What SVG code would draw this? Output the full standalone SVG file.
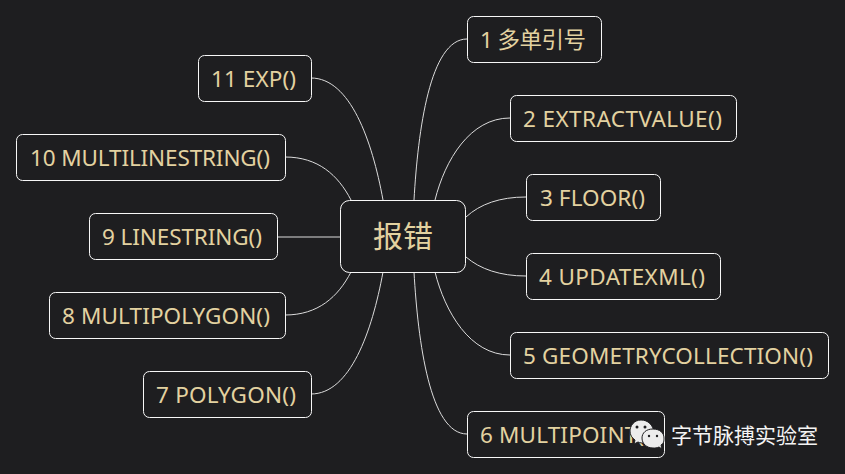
<svg xmlns="http://www.w3.org/2000/svg" width="845" height="474" viewBox="0 0 845 474">
<style>
.n{fill:#1e1e20;stroke:#f7f7f7;stroke-width:1}
.t{fill:#e3d2a0;font-family:"Noto Sans","Noto Sans CJK SC",sans-serif;font-size:22.5px}
.c{fill:none;stroke:#dcdcdc;stroke-width:1}
.b{fill:#ececec;stroke:#1e1e20;stroke-width:1}
</style>
<rect width="845" height="474" fill="#1e1e20"/>
<g id="connectors">
<path class="c" d="M414 200C418 130 430 39 467 39"/>
<path class="c" d="M435 200C445 160 470 118 510 118"/>
<path class="c" d="M466 217C480 204 500 197 526 197"/>
<path class="c" d="M466 257C480 269 500 276 526 276"/>
<path class="c" d="M435 272C445 312 470 355 510 355"/>
<path class="c" d="M414 272C418 342 430 434 467 434"/>
<path class="c" d="M383 200C372 140 350 78 311 78"/>
<path class="c" d="M351 200C338 175 318 157 285 157"/>
<path class="c" d="M340 237H277"/>
<path class="c" d="M351 272C338 297 318 315 285 315"/>
<path class="c" d="M383 272C372 332 350 394 311 394"/>
</g>
<g id="center"><rect class="n" x="340.500" y="200.500" width="125" height="72" rx="9"/><text class="t" x="403" y="247" text-anchor="middle" style="font-size:30px">报错</text></g>
<g id="n1"><rect class="n" x="467.500" y="16.500" width="134" height="46" rx="6"/><text class="t" x="480" y="48" textLength="106">1 多单引号</text></g>
<g id="n2"><rect class="n" x="510.500" y="95.500" width="226" height="46" rx="6"/><text class="t" x="523" y="127" textLength="199">2 EXTRACTVALUE()</text></g>
<g id="n3"><rect class="n" x="526.500" y="174.500" width="134" height="46" rx="6"/><text class="t" x="540" y="206" textLength="105">3 FLOOR()</text></g>
<g id="n4"><rect class="n" x="526.500" y="253.500" width="194" height="46" rx="6"/><text class="t" x="539" y="285" textLength="166">4 UPDATEXML()</text></g>
<g id="n5"><rect class="n" x="510.500" y="332.500" width="318" height="46" rx="6"/><text class="t" x="523" y="364" textLength="290">5 GEOMETRYCOLLECTION()</text></g>
<g id="n6"><rect class="n" x="467.500" y="411.500" width="197" height="46" rx="6"/><text class="t" x="480" y="443" textLength="171">6 MULTIPOINT()</text></g>
<g id="n7"><rect class="n" x="143.500" y="371.500" width="168" height="46" rx="6"/><text class="t" x="156" y="403" textLength="140">7 POLYGON()</text></g>
<g id="n8"><rect class="n" x="49.500" y="292.500" width="236" height="46" rx="6"/><text class="t" x="62" y="324" textLength="208">8 MULTIPOLYGON()</text></g>
<g id="n9"><rect class="n" x="89.500" y="213.500" width="188" height="46" rx="6"/><text class="t" x="102" y="245" textLength="160">9 LINESTRING()</text></g>
<g id="n10"><rect class="n" x="16.500" y="134.500" width="269" height="46" rx="6"/><text class="t" x="30" y="166" textLength="240">10 MULTILINESTRING()</text></g>
<g id="n11"><rect class="n" x="198.500" y="55.500" width="113" height="46" rx="6"/><text class="t" x="211" y="87" textLength="85">11 EXP()</text></g>
<g id="watermark">
<path class="b" d="M641 420C634 420 630 426 630 431C630 435 632 438 635 440L634 444L638 442C640 443 642 443 645 443L654 432C653 425 648 420 641 420Z"/>
<path class="b" d="M653 429C646 429 642 433 642 438C642 444 647 448 653 448C655 448 657 448 659 447L662 449L661 445C664 443 664 441 664 438C664 433 660 429 653 429Z"/>
<circle cx="637" cy="427" r="1.500" fill="#1e1e20"/><circle cx="645" cy="427" r="1.500" fill="#1e1e20"/>
<circle cx="649" cy="436" r="1.200" fill="#1e1e20"/><circle cx="657" cy="436" r="1.200" fill="#1e1e20"/>
<text x="671" y="443" style="fill:#f4f4f4;font-family:'Noto Sans CJK SC',sans-serif;font-size:21px">字节脉搏实验室</text>
</g>
</svg>
